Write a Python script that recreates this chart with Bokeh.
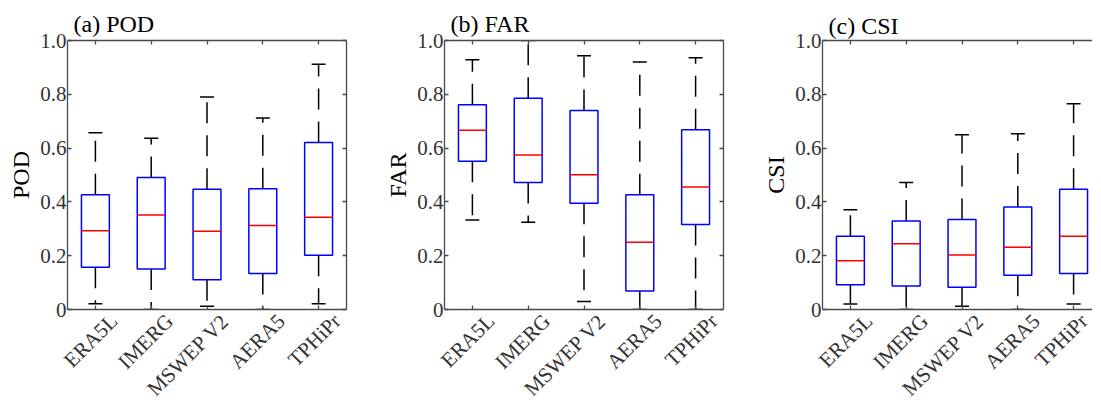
import math
import numpy as np
from bokeh.plotting import figure
from bokeh.models import (ColumnDataSource, Range1d, FixedTicker, LinearAxis,
                          PrintfTickFormatter)
from bokeh.layouts import row
from bokeh.embed import file_html
from bokeh.resources import INLINE

# ---------------- data ----------------
products = ["ERA5L", "IMERG", "MSWEP V2", "AERA5", "TPHiPr"]
y_ticks = [0, 0.2, 0.4, 0.6, 0.8, 1.0]

pod_low = [0.021, 0.0, 0.012, 0.0, 0.021]
pod_q1 = [0.157, 0.151, 0.111, 0.134, 0.202]
pod_med = [0.293, 0.351, 0.291, 0.312, 0.343]
pod_q3 = [0.427, 0.491, 0.447, 0.449, 0.621]
pod_high = [0.657, 0.637, 0.790, 0.712, 0.912]

far_low = [0.333, 0.324, 0.030, 0.0, 0.0]
far_q1 = [0.551, 0.472, 0.395, 0.069, 0.316]
far_med = [0.666, 0.574, 0.501, 0.250, 0.455]
far_q3 = [0.761, 0.785, 0.740, 0.427, 0.668]
far_high = [0.928, 1.0, 0.943, 0.920, 0.936]

csi_low = [0.020, 0.0, 0.012, 0.0, 0.020]
csi_q1 = [0.092, 0.087, 0.083, 0.127, 0.134]
csi_med = [0.181, 0.244, 0.203, 0.231, 0.272]
csi_q3 = [0.272, 0.329, 0.335, 0.381, 0.447]
csi_high = [0.371, 0.472, 0.650, 0.653, 0.765]

FONT = "Liberation Serif"
AXIS_COLOR = "#4a4a4a"
TICK_FS = "21px"
XTICK_FS = "21px"
LABEL_FS = "24px"

BOX_W = 0.5
CAP_W = 0.25
FRAME_W = 279
LABEL_SHIFT = 0.33


def style_axis(ax, show_labels):
    ax.axis_line_color = AXIS_COLOR
    ax.axis_line_width = 1.3
    ax.major_tick_line_color = AXIS_COLOR
    ax.major_tick_line_width = 1.3
    ax.major_tick_in = 4
    ax.major_tick_out = 0
    ax.minor_tick_line_color = None
    ax.major_label_text_font = FONT
    ax.major_label_text_font_size = TICK_FS if show_labels else "0px"
    ax.major_label_text_color = "#333333"
    if not show_labels:
        ax.major_label_standoff = 0


def make_panel(title, ylabel, low, q1, med, q3, high, width, border_right,
               title_standoff, right_axis=True):
    x = np.arange(1, len(products) + 1, dtype=float)
    frame_w = width - 67 - border_right
    x_end = 0.5 + len(products) * frame_w / FRAME_W
    p = figure(width=width, height=412, output_backend="svg",
               toolbar_location=None, x_range=Range1d(0.5, x_end),
               y_range=Range1d(0, 1), min_border_left=67,
               min_border_right=border_right, min_border_top=40,
               min_border_bottom=103)
    p.outline_line_color = None
    p.xgrid.visible = False
    p.ygrid.visible = False
    p.background_fill_color = "white"
    p.border_fill_color = "white"

    p.title.text = title
    p.title.text_font = FONT
    p.title.text_font_size = LABEL_FS
    p.title.text_font_style = "normal"
    p.title.text_color = "black"
    p.title.align = "left"
    p.title.offset = 6
    p.title.standoff = title_standoff

    src = ColumnDataSource(dict(
        x=x, low=low, q1=q1, med=med, q3=q3, high=high,
        xl=x - BOX_W / 2, xr=x + BOX_W / 2,
        cl=x - CAP_W / 2, cr=x + CAP_W / 2,
    ))
    # whiskers (dashed)
    p.segment(x0="x", y0="q3", x1="x", y1="high", source=src,
              line_color="black", line_width=1.5, line_dash="21 12")
    p.segment(x0="x", y0="q1", x1="x", y1="low", source=src,
              line_color="black", line_width=1.5, line_dash="21 12")
    # caps
    p.segment(x0="cl", y0="high", x1="cr", y1="high", source=src,
              line_color="black", line_width=1.5)
    p.segment(x0="cl", y0="low", x1="cr", y1="low", source=src,
              line_color="black", line_width=1.5)
    # boxes
    p.quad(left="xl", right="xr", bottom="q1", top="q3", source=src,
           fill_color=None, line_color="#0000ff", line_width=1.5)
    # medians
    p.segment(x0="xl", y0="med", x1="xr", y1="med", source=src,
              line_color="#ff0000", line_width=1.5)

    # left axis
    ly = p.yaxis[0]
    ly.ticker = FixedTicker(ticks=y_ticks)
    ly.formatter = PrintfTickFormatter(format="%.1f")
    ly.major_label_overrides = {0: "0"}
    style_axis(ly, True)
    ly.major_label_standoff = 1
    ly.axis_label = ylabel
    ly.axis_label_text_font = FONT
    ly.axis_label_text_font_size = LABEL_FS
    ly.axis_label_text_font_style = "normal"
    ly.axis_label_text_color = "black"
    ly.axis_label_standoff = 3

    # bottom axis: tick marks only
    bx = p.xaxis[0]
    bx.ticker = FixedTicker(ticks=list(x))
    style_axis(bx, False)

    # bottom label axis: rotated category names right of each tick
    lab_pos = list(x + LABEL_SHIFT)
    lx = LinearAxis(ticker=FixedTicker(ticks=lab_pos))
    lx.major_label_overrides = {float(v): n for v, n in zip(lab_pos, products)}
    lx.axis_line_color = None
    lx.major_tick_line_color = None
    lx.minor_tick_line_color = None
    lx.major_tick_in = 0
    lx.major_tick_out = 0
    lx.major_label_text_font = FONT
    lx.major_label_text_font_size = XTICK_FS
    lx.major_label_text_color = "#333333"
    lx.major_label_orientation = math.pi / 4
    lx.major_label_standoff = 8
    p.add_layout(lx, "below")

    # top axis
    tx = LinearAxis(ticker=FixedTicker(ticks=list(x)))
    style_axis(tx, False)
    p.add_layout(tx, "above")
    # right axis
    if right_axis:
        ry = LinearAxis(ticker=FixedTicker(ticks=y_ticks))
        style_axis(ry, False)
        p.add_layout(ry, "right")
    return p


pa = make_panel("(a) POD", "POD", pod_low, pod_q1, pod_med, pod_q3, pod_high,
                377, 31, 8)
pb = make_panel("(b) FAR", "FAR", far_low, far_q1, far_med, far_q3, far_high,
                378, 32, 8)
pc = make_panel("(c) CSI", "CSI", csi_low, csi_q1, csi_med, csi_q3, csi_high,
                337, 0, 3, right_axis=False)

layout = row(pa, pb, pc)
open("out.html", "w").write(file_html(layout, INLINE))
